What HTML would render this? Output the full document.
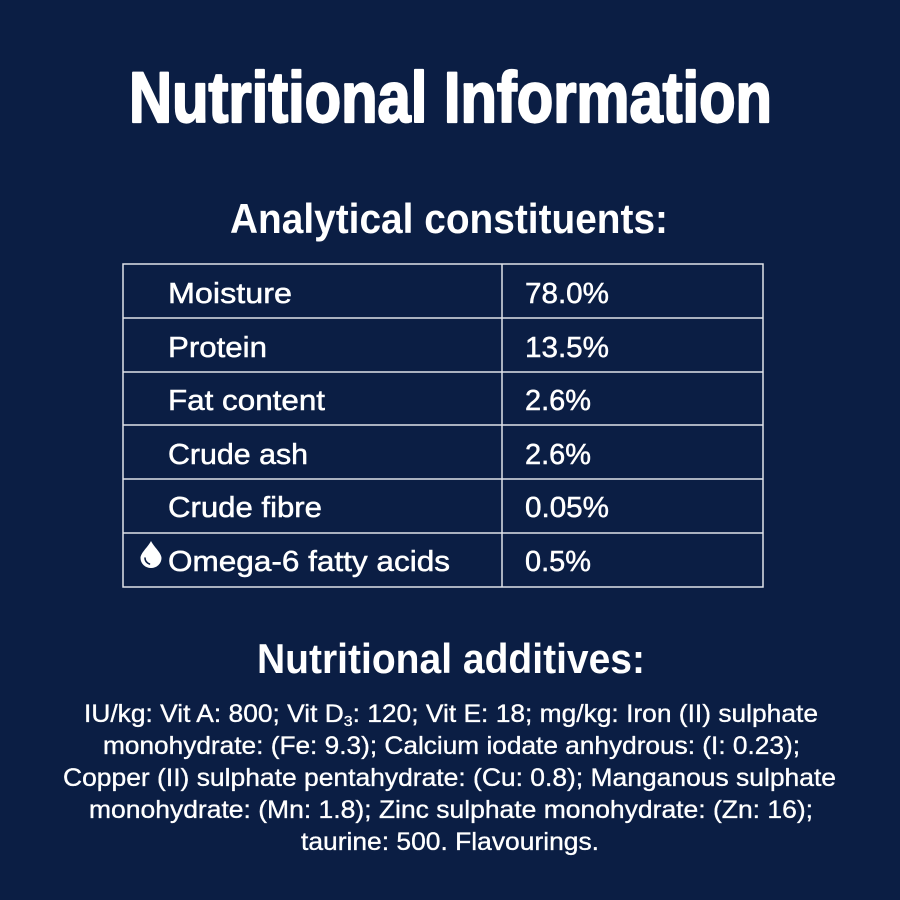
<!DOCTYPE html>
<html>
<head>
<meta charset="utf-8">
<style>
  html, body { margin: 0; padding: 0; background: #0b1e44; }
  svg { display: block; }
  text { font-family: "Liberation Sans", "DejaVu Sans", sans-serif; fill: #ffffff; }
</style>
</head>
<body>
<svg width="900" height="900" viewBox="0 0 900 900" xmlns="http://www.w3.org/2000/svg">
  <rect x="0" y="0" width="900" height="900" fill="#0b1e44"/>

  <!-- Title -->
  <text x="129" y="122" font-size="71" font-weight="bold" textLength="643" lengthAdjust="spacingAndGlyphs" stroke="#ffffff" stroke-width="2.2" stroke-linejoin="round">Nutritional Information</text>

  <!-- Analytical constituents -->
  <text x="230" y="233" font-size="42" font-weight="bold" textLength="438" lengthAdjust="spacingAndGlyphs">Analytical constituents:</text>

  <!-- Table -->
  <g stroke="#dfe2e8" stroke-width="1.5" fill="none">
    <rect x="123" y="264" width="640" height="323"/>
    <line x1="123" y1="318" x2="763" y2="318"/>
    <line x1="123" y1="372" x2="763" y2="372"/>
    <line x1="123" y1="425" x2="763" y2="425"/>
    <line x1="123" y1="479" x2="763" y2="479"/>
    <line x1="123" y1="533" x2="763" y2="533"/>
    <line x1="502" y1="264" x2="502" y2="587"/>
  </g>

  <g font-size="29" stroke="#ffffff" stroke-width="0.5">
    <text x="168" y="303" textLength="124" lengthAdjust="spacingAndGlyphs">Moisture</text>
    <text x="168" y="357" textLength="99" lengthAdjust="spacingAndGlyphs">Protein</text>
    <text x="168" y="410" textLength="157" lengthAdjust="spacingAndGlyphs">Fat content</text>
    <text x="168" y="464" textLength="140" lengthAdjust="spacingAndGlyphs">Crude ash</text>
    <text x="168" y="517" textLength="154" lengthAdjust="spacingAndGlyphs">Crude fibre</text>
    <text x="168" y="571" textLength="282" lengthAdjust="spacingAndGlyphs">Omega-6 fatty acids</text>

    <text x="525" y="303" textLength="84" lengthAdjust="spacingAndGlyphs">78.0%</text>
    <text x="525" y="357" textLength="84" lengthAdjust="spacingAndGlyphs">13.5%</text>
    <text x="525" y="410" textLength="66" lengthAdjust="spacingAndGlyphs">2.6%</text>
    <text x="525" y="464" textLength="66" lengthAdjust="spacingAndGlyphs">2.6%</text>
    <text x="525" y="517" textLength="84" lengthAdjust="spacingAndGlyphs">0.05%</text>
    <text x="525" y="571" textLength="66" lengthAdjust="spacingAndGlyphs">0.5%</text>
  </g>

  <!-- Drop icon -->
  <path d="M151 541 C148 547 140.5 553 140.5 558 A10.5 10 0 0 0 161.5 558 C161.5 553 154 547 151 541 Z" fill="#ffffff"/>
  <path d="M145 558 C145 561 147 563 149.5 564" stroke="#0b1e44" stroke-width="1.6" fill="none" stroke-linecap="round"/>

  <!-- Nutritional additives -->
  <text x="257" y="673" font-size="42" font-weight="bold" textLength="388" lengthAdjust="spacingAndGlyphs">Nutritional additives:</text>

  <g font-size="25" stroke="#ffffff" stroke-width="0.35">
    <text x="84" y="722" textLength="734" lengthAdjust="spacingAndGlyphs">IU/kg: Vit A: 800; Vit D<tspan font-size="15" dy="4">3</tspan><tspan dy="-4">: 120; Vit E: 18; mg/kg: Iron (II) sulphate</tspan></text>
    <text x="103" y="754" textLength="697" lengthAdjust="spacingAndGlyphs">monohydrate: (Fe: 9.3); Calcium iodate anhydrous: (I: 0.23);</text>
    <text x="63" y="786" textLength="773" lengthAdjust="spacingAndGlyphs">Copper (II) sulphate pentahydrate: (Cu: 0.8); Manganous sulphate</text>
    <text x="89" y="818" textLength="724" lengthAdjust="spacingAndGlyphs">monohydrate: (Mn: 1.8); Zinc sulphate monohydrate: (Zn: 16);</text>
    <text x="301" y="850" textLength="298" lengthAdjust="spacingAndGlyphs">taurine: 500. Flavourings.</text>
  </g>
</svg>
</body>
</html>
